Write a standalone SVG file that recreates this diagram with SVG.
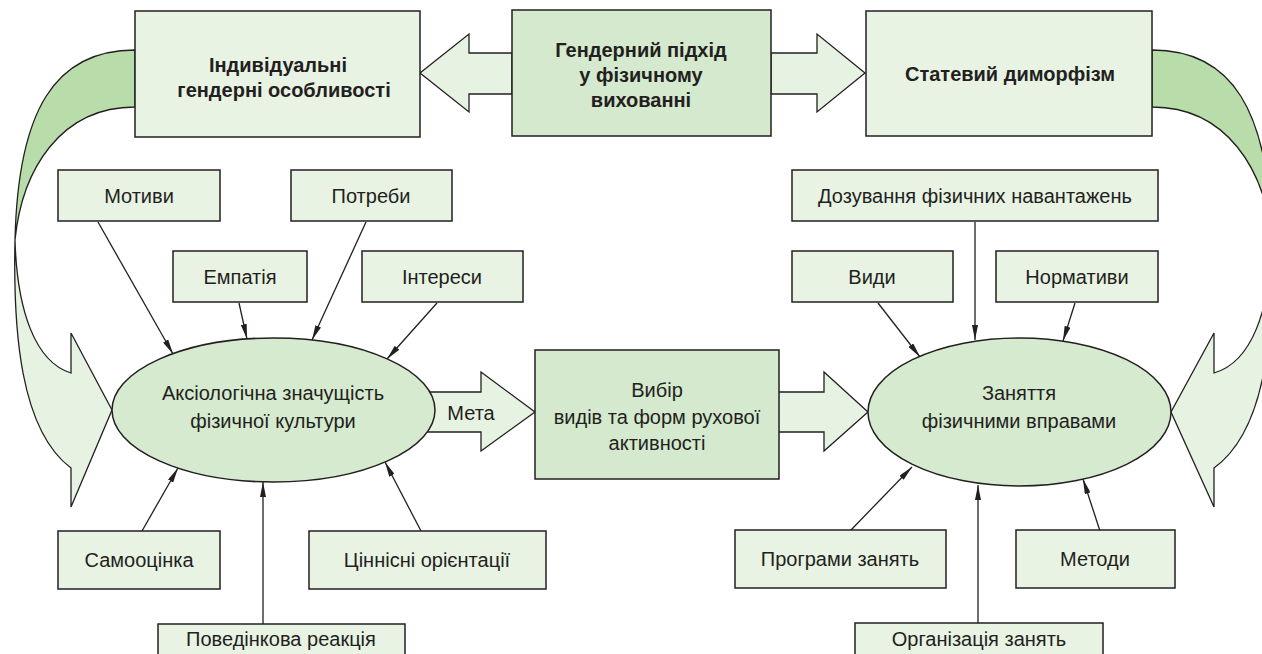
<svg xmlns="http://www.w3.org/2000/svg" width="1262" height="654" viewBox="0 0 1262 654">
<defs>
<style>
.bx{fill:#e8f3e4;stroke:#231f20;stroke-width:1.5}
.bxd{fill:#d4e9cd;stroke:#231f20;stroke-width:1.5}
.el{fill:#d5eace;stroke:#231f20;stroke-width:1.5}
.ba{fill:#e6f2e2;stroke:#231f20;stroke-width:1.3;stroke-linejoin:miter}
.dk{fill:#b8dcaa;stroke:#231f20;stroke-width:1.3}
.lt{fill:#e6f2e2;stroke:#231f20;stroke-width:1.3;stroke-linejoin:miter}
.cn{stroke:#231f20;stroke-width:1.3;fill:none;marker-end:url(#ah)}
text{font-family:"Liberation Sans",Arial,sans-serif;font-size:20px;fill:#231f20;text-anchor:middle}
.b{font-weight:bold}
</style>
<marker id="ah" viewBox="0 0 15 6" refX="15" refY="3" markerWidth="15" markerHeight="6" markerUnits="userSpaceOnUse" orient="auto">
<path d="M0,0 L15,3 L0,6 Z" fill="#231f20"/>
</marker>
</defs>
<rect width="1262" height="654" fill="#ffffff"/>

<g id="flows">
<path class="dk" d="M135,50 C55,50 18,110 15,240 C22,170 60,107 135,107 Z"/>
<path class="lt" d="M15,240 C13,330 20,430 71,468 L71,507 L112,410 L71,333 L71,373 C35,362 17,310 15,240 Z"/>
<path class="dk" d="M1152,50 C1232,50 1269,110 1272,240 C1265,170 1227,107 1152,107 Z"/>
<path class="lt" d="M1272,240 C1274,330 1267,430 1214,468 L1214,507 L1171,412 L1214,333 L1214,373 C1252,362 1270,310 1272,240 Z"/>
<path class="ba" d="M512,53 L469,53 L469,34 L420,73 L469,112 L469,94 L512,94 Z"/>
<path class="ba" d="M771,53 L817,53 L817,34 L865,73 L817,112 L817,94 L771,94 Z"/>
<path class="ba" d="M420,392 L481,392 L481,372 L535,412 L481,451 L481,432 L420,432 Z"/>
<path class="ba" d="M770,392 L824,392 L824,372 L868,412 L824,451 L824,432 L770,432 Z"/>
</g>

<g id="connectors">
<line class="cn" x1="98" y1="222" x2="173" y2="354"/>
<line class="cn" x1="366" y1="222" x2="312" y2="340"/>
<line class="cn" x1="239" y1="303" x2="247" y2="339"/>
<line class="cn" x1="437" y1="303" x2="387" y2="359"/>
<line class="cn" x1="142" y1="531" x2="178" y2="468"/>
<line class="cn" x1="263" y1="624" x2="263" y2="482"/>
<line class="cn" x1="421" y1="531" x2="385" y2="462"/>
<line class="cn" x1="975" y1="222" x2="975" y2="340"/>
<line class="cn" x1="878" y1="303" x2="920" y2="357"/>
<line class="cn" x1="1075" y1="303" x2="1063" y2="341"/>
<line class="cn" x1="850" y1="531" x2="912" y2="467"/>
<line class="cn" x1="978" y1="623" x2="978" y2="485"/>
<line class="cn" x1="1100" y1="531" x2="1083" y2="479"/>
</g>

<g id="individualni">
<rect class="bx" x="135" y="11" width="285" height="126"/>
<text class="b" x="278" y="72">Індивідуальні</text>
<text class="b" x="284" y="97">гендерні особливості</text>
</g>
<g id="gendernyi">
<rect class="bxd" x="512" y="10" width="259" height="126"/>
<text class="b" x="641" y="57">Гендерний підхід</text>
<text class="b" x="641" y="82">у фізичному</text>
<text class="b" x="641" y="107">вихованні</text>
</g>
<g id="statevyi">
<rect class="bx" x="866" y="11" width="286" height="125"/>
<text class="b" x="1010" y="81">Статевий диморфізм</text>
</g>

<g id="motyvy"><rect class="bx" x="58" y="170" width="162" height="51"/><text x="139" y="203">Мотиви</text></g>
<g id="potreby"><rect class="bx" x="291" y="170" width="161" height="51"/><text x="371" y="203">Потреби</text></g>
<g id="empatiia"><rect class="bx" x="173" y="251" width="134" height="51"/><text x="240" y="284">Емпатія</text></g>
<g id="interesy"><rect class="bx" x="362" y="251" width="161" height="51"/><text x="442" y="284">Інтереси</text></g>
<g id="samootsinka"><rect class="bx" x="58" y="531" width="162" height="58"/><text x="139" y="567">Самооцінка</text></g>
<g id="tsinnisni"><rect class="bx" x="309" y="531" width="237" height="58"/><text x="427" y="567">Ціннісні орієнтації</text></g>
<g id="povedinkova"><rect class="bx" x="158" y="624" width="247" height="40"/><text x="281" y="646">Поведінкова реакція</text></g>

<g id="aksiolohichna">
<ellipse class="el" cx="273.5" cy="410" rx="161.5" ry="72"/>
<text x="273" y="400">Аксіологічна значущість</text>
<text x="273" y="428">фізичної культури</text>
</g>
<text x="471" y="420">Мета</text>

<g id="vybir">
<rect class="bxd" x="535" y="350" width="244" height="129"/>
<text x="657" y="397">Вибір</text>
<text x="657" y="424">видів та форм рухової</text>
<text x="657" y="450">активності</text>
</g>

<g id="zaniattia">
<ellipse class="el" cx="1019.5" cy="412" rx="151.5" ry="74"/>
<text x="1019" y="400">Заняття</text>
<text x="1019" y="428">фізичними вправами</text>
</g>

<g id="dozuvannia"><rect class="bx" x="792" y="170" width="366" height="51"/><text x="975" y="203">Дозування фізичних навантажень</text></g>
<g id="vydy"><rect class="bx" x="792" y="251" width="161" height="51"/><text x="872" y="284">Види</text></g>
<g id="normatyvy"><rect class="bx" x="996" y="251" width="162" height="51"/><text x="1077" y="284">Нормативи</text></g>
<g id="prohramy"><rect class="bx" x="735" y="530" width="211" height="58"/><text x="840" y="566">Програми занять</text></g>
<g id="metody"><rect class="bx" x="1016" y="530" width="159" height="58"/><text x="1095" y="566">Методи</text></g>
<g id="orhanizatsiia"><rect class="bx" x="855" y="623" width="248" height="40"/><text x="979" y="646">Організація занять</text></g>
</svg>
